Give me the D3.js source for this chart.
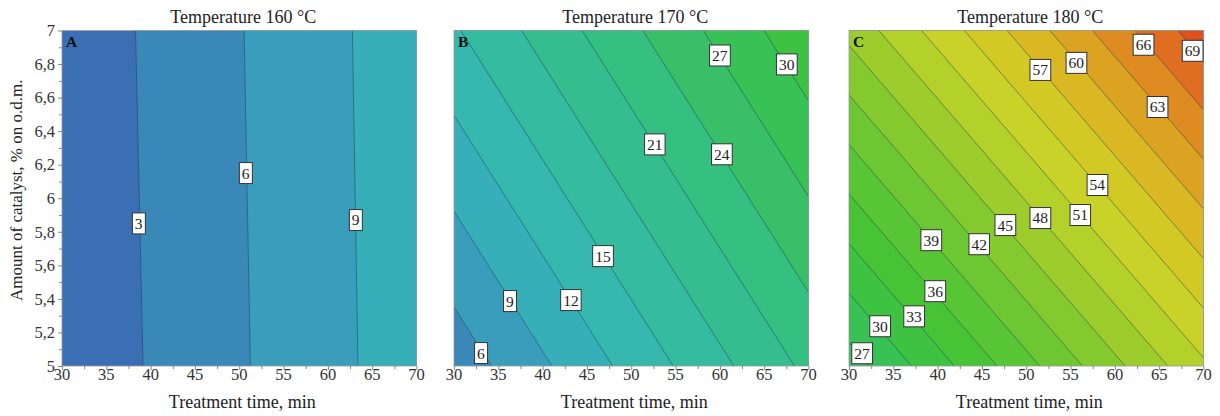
<!DOCTYPE html>
<html><head><meta charset="utf-8">
<script src="https://cdn.jsdelivr.net/npm/d3@7"></script>
<style>body{margin:0;background:#fff;}svg{display:block;}</style>
</head><body>
<svg id="chart" width="1220" height="416"></svg>
<script>
// ---------- data ----------
const xDomain = [30, 70];
const yDomain = [5, 7];
const xTickValues = [30, 35, 40, 45, 50, 55, 60, 65, 70];
const xTickLabels = ["30", "35", "40", "45", "50", "55", "60", "65", "70"];
const xMinorTicks = [32.5, 37.5, 42.5, 47.5, 52.5, 57.5, 62.5, 67.5];
const yTickValues = [5, 5.2, 5.4, 5.6, 5.8, 6, 6.2, 6.4, 6.6, 6.8, 7];
const yTickLabels = ["5", "5,2", "5,4", "5,6", "5,8", "6", "6,2", "6,4", "6,6", "6,8", "7"];
const yMinorTicks = [5.1, 5.3, 5.5, 5.7, 5.9, 6.1, 6.3, 6.5, 6.7, 6.9];
const panelTitles = ["Temperature 160 °C", "Temperature 170 °C", "Temperature 180 °C"];
const panelLetters = ["A", "B", "C"];
const xAxisTitle = "Treatment time, min";
const yAxisTitle = "Amount of catalyst, % on o.d.m.";

// Panel A: contour levels, where each line meets the frame [time, catalyst]
const levelsA = [3, 6, 9];
const lineStartA = [[38.3, 7], [50.55, 7], [62.77, 7]];
const lineEndA = [[39.15, 5], [51.26, 5], [63.4, 5]];
const labelTextA = ["3", "6", "9"];
const labelPosA = [[38.66, 5.85], [50.73, 6.15], [63.14, 5.87]];

// Panel B
const levelsB = [6, 9, 12, 15, 18, 21, 24, 27, 30];
const lineStartB = [[30, 5.352], [30, 5.923], [30, 6.494], [30.78, 7], [37.62, 7], [44.46, 7], [51.3, 7], [58.14, 7], [64.98, 7]];
const lineEndB = [[34.22, 5], [41.06, 5], [47.9, 5], [54.74, 5], [61.58, 5], [68.42, 5], [70, 5.439], [70, 6.01], [70, 6.581]];
const labelTextB = ["6", "9", "12", "15", "21", "24", "27", "30"];
const labelPosB = [[33.04, 5.077], [36.31, 5.387], [43.19, 5.393], [46.8, 5.655], [52.66, 6.321], [60.21, 6.262], [59.99, 6.851], [67.54, 6.798]];

// Panel C
const levelsC = [27, 30, 33, 36, 39, 42, 45, 48, 51, 54, 57, 60, 63, 66, 69];
const lineStartC = [[30, 5.138], [30, 5.433], [30, 5.729], [30, 6.025], [30, 6.32], [30, 6.616], [30, 6.911], [33.37, 7], [38.19, 7], [43.01, 7], [47.83, 7], [52.65, 7], [57.47, 7], [62.29, 7], [67.1, 7]];
const lineEndC = [[32.25, 5], [37.07, 5], [41.89, 5], [46.71, 5], [51.53, 5], [56.35, 5], [61.16, 5], [65.98, 5], [70, 5.049], [70, 5.345], [70, 5.64], [70, 5.936], [70, 6.232], [70, 6.527], [70, 6.823]];
const labelTextC = ["27", "30", "33", "36", "39", "42", "45", "48", "51", "54", "57", "60", "63", "66", "69"];
const labelPosC = [[31.47, 5.076], [33.5, 5.237], [37.34, 5.296], [39.72, 5.446], [39.27, 5.75], [44.69, 5.726], [47.63, 5.84], [51.58, 5.882], [56.1, 5.9], [58.02, 6.079], [51.58, 6.765], [55.65, 6.807], [64.8, 6.544], [63.22, 6.915], [68.76, 6.879]];

// ---------- styling / layout ----------
const colorStops = [1.5, 4.5, 7.5, 10.5, 13.5, 16.5, 19.5, 22.5, 25.5, 28.5, 31.5, 34.5, 37.5, 40.5, 43.5, 46.5, 49.5, 52.5, 55.5, 58.5, 61.5, 64.5, 67.5, 70.5];
const colorValues = ["#3b6fb4", "#3a88b8", "#399ebb", "#37afb8", "#36b8ae", "#35bba0", "#35bd90", "#35bf80", "#38bf68", "#38c154", "#3dc242", "#48c336", "#58c535", "#6cc732", "#84ca2f", "#9ccd2c", "#b4d02a", "#c8d228", "#d3c925", "#d9b823", "#dca323", "#de8b22", "#df6e22", "#de5020"];
const color = d3.scaleLinear().domain(colorStops).range(colorValues).clamp(true);

const serif = "'Liberation Serif','Times New Roman',serif";
const panelLeft = [62, 454, 849];
const PW = 354.5, PT = 30.5, PH = 335.5;

const panels = [
  {levels: levelsA, st: lineStartA, en: lineEndA, lt: labelTextA, lp: labelPosA},
  {levels: levelsB, st: lineStartB, en: lineEndB, lt: labelTextB, lp: labelPosB},
  {levels: levelsC, st: lineStartC, en: lineEndC, lt: labelTextC, lp: labelPosC}
];

const svg = d3.select("#chart");
const defs = svg.append("defs");

panels.forEach((p, pi) => {
  const L = panelLeft[pi];
  const x = d3.scaleLinear().domain(xDomain).range([L, L + PW]);
  const y = d3.scaleLinear().domain(yDomain).range([PT + PH, PT]);
  const cid = "clip" + pi;
  defs.append("clipPath").attr("id", cid).append("rect")
    .attr("x", L).attr("y", PT).attr("width", PW).attr("height", PH);
  const g = svg.append("g");
  const area = g.append("g").attr("clip-path", `url(#${cid})`);

  // base band
  area.append("rect").attr("x", L).attr("y", PT).attr("width", PW).attr("height", PH)
    .attr("fill", color(p.levels[0] - 1.5));
  // higher bands painted over half-planes
  const big = 3000;
  p.levels.forEach((lv, i) => {
    const P1 = [x(p.st[i][0]), y(p.st[i][1])];
    const P2 = [x(p.en[i][0]), y(p.en[i][1])];
    let dx = P2[0] - P1[0], dy = P2[1] - P1[1];
    const len = Math.hypot(dx, dy); dx /= len; dy /= len;
    let n = [dy, -dx];
    if (n[0] - n[1] < 0) n = [-dy, dx];
    const Q1 = [P1[0] - dx * big, P1[1] - dy * big];
    const Q2 = [P2[0] + dx * big, P2[1] + dy * big];
    const poly = [Q1, Q2, [Q2[0] + n[0] * big, Q2[1] + n[1] * big], [Q1[0] + n[0] * big, Q1[1] + n[1] * big]];
    area.append("path").attr("d", "M" + poly.map(q => q.join(",")).join("L") + "Z")
      .attr("fill", color(lv + 1.5));
  });
  // contour lines
  p.levels.forEach((lv, i) => {
    area.append("line")
      .attr("x1", x(p.st[i][0])).attr("y1", y(p.st[i][1]))
      .attr("x2", x(p.en[i][0])).attr("y2", y(p.en[i][1]))
      .attr("stroke", "#1f3f4f").attr("stroke-opacity", 0.55).attr("stroke-width", 0.9);
  });

  // frame
  g.append("rect").attr("x", L).attr("y", PT).attr("width", PW).attr("height", PH)
    .attr("fill", "none").attr("stroke", "#9a9a9a").attr("stroke-width", 0.8);

  // contour labels
  p.lt.forEach((t, i) => {
    const lg = g.append("g").attr("transform", `translate(${x(p.lp[i][0])},${y(p.lp[i][1])})`);
    const txt = lg.append("text").text(t)
      .attr("text-anchor", "middle").attr("dy", "0.35em")
      .attr("font-family", serif).attr("font-size", 15.5).attr("fill", "#222");
    const bb = txt.node().getBBox();
    lg.insert("rect", "text")
      .attr("x", bb.x - 2.5).attr("y", -10.5).attr("width", bb.width + 5).attr("height", 21)
      .attr("fill", "#fff").attr("stroke", "#333").attr("stroke-width", 1);
  });

  // bottom axis
  const xAxis = g.append("g").attr("transform", `translate(0,${PT + PH})`);
  xAxis.call(d3.axisBottom(x).tickValues(xTickValues).tickFormat("").tickSize(4));
  xAxis.call(ax => ax.append("g").call(d3.axisBottom(x).tickValues(xMinorTicks).tickFormat("").tickSize(3)));
  xAxis.selectAll(".domain").remove();
  xAxis.selectAll("line").attr("stroke", "#888");
  g.selectAll(null).data(xTickValues).enter().append("text")
    .attr("x", d => x(d)).attr("y", PT + PH + 14)
    .attr("text-anchor", "middle").attr("font-family", serif).attr("font-size", 16.5).attr("fill", "#333")
    .text((d, i) => xTickLabels[i]);
  g.append("text").attr("x", L + PW / 2 + 3).attr("y", 408)
    .attr("text-anchor", "middle").attr("font-family", serif).attr("font-size", 18).attr("fill", "#222")
    .text(xAxisTitle);

  // title
  g.append("text").attr("x", L + PW / 2 + 4).attr("y", 22.5)
    .attr("text-anchor", "middle").attr("font-family", serif).attr("font-size", 18).attr("fill", "#222")
    .text(panelTitles[pi]);
  // panel letter
  g.append("text").attr("x", L + 4).attr("y", 46.5)
    .attr("font-family", serif).attr("font-weight", "bold").attr("font-size", 15.5).attr("fill", "#111")
    .text(panelLetters[pi]);

  if (pi === 0) {
    const yAxis = g.append("g").attr("transform", `translate(${L},0)`);
    yAxis.call(d3.axisLeft(y).tickValues(yTickValues).tickFormat("").tickSize(4));
    yAxis.call(ax => ax.append("g").call(d3.axisLeft(y).tickValues(yMinorTicks).tickFormat("").tickSize(3)));
    yAxis.selectAll(".domain").remove();
    yAxis.selectAll("line").attr("stroke", "#888");
    g.selectAll(null).data(yTickValues).enter().append("text")
      .attr("x", L - 7).attr("y", d => y(d)).attr("dy", "0.35em")
      .attr("text-anchor", "end").attr("font-family", serif).attr("font-size", 16.5).attr("fill", "#333")
      .text((d, i) => yTickLabels[i]);
    g.append("text").attr("transform", `translate(22,${PT + PH / 2 - 8}) rotate(-90)`)
      .attr("text-anchor", "middle").attr("font-family", serif).attr("font-size", 17).attr("fill", "#222")
      .text(yAxisTitle);
  }
});
</script>
</body></html>
